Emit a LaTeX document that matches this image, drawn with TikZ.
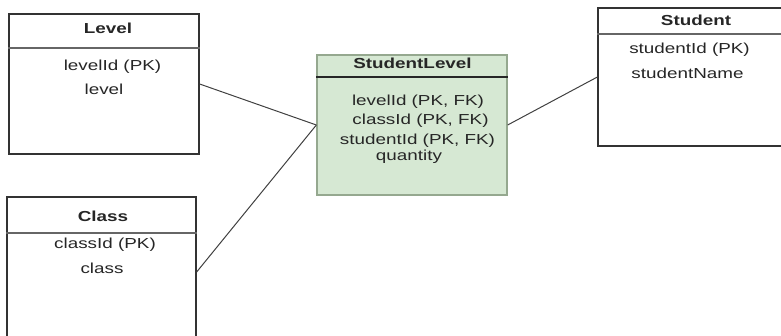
\documentclass[tikz,border=0pt]{standalone}
\usepackage{fontspec}
\setmainfont{Liberation Sans}[FakeStretch=1.3]
\begin{document}
\begin{tikzpicture}[x=1pt,y=-1pt,
  entity/.style={draw=black!80,line width=1.3pt,rectangle,inner sep=0pt,fill=white},
  assoc/.style={draw=sborder,line width=1.3pt,rectangle,inner sep=0pt,fill=sgreen},
  fld/.style={inner sep=0pt,font=\fontsize{14.5}{16}\selectfont,text=black!85},
  ttl/.style={inner sep=0pt,font=\fontsize{14.5}{16}\selectfont\bfseries,text=black!85},
  divider/.style={draw=black!60,line width=1.2pt},
  conn/.style={draw=black!75,line width=1pt}]
\definecolor{sgreen}{HTML}{D6E8D3}
\definecolor{sborder}{HTML}{95A88F}
\useasboundingbox (0,0) rectangle (781,335);
\clip (0,0) rectangle (781,335);
% boxes
\node[entity,minimum width=190pt,minimum height=140pt] (level) at (104,84) {};
\node[entity,minimum width=189pt,minimum height=150pt] (class) at (101.5,272) {};
\node[assoc,minimum width=190pt,minimum height=140pt] (sl) at (412,125) {};
\node[entity,minimum width=192pt,minimum height=138pt] (student) at (694,77) {};
% dividers
\draw[divider] (level.west |- 0,48) -- (level.east |- 0,48);
\draw[divider] (class.west |- 0,233) -- (class.east |- 0,233);
\draw[divider,draw=black!85] (sl.west |- 0,77) -- (sl.east |- 0,77);
\draw[divider] (student.west |- 0,34) -- (student.east |- 0,34);
% Level texts
\node[ttl] (leveltitle) at (108,28) {Level};
\node[fld] (levelid) at (112.5,67) {levelId (PK)};
\node[fld] (levelf) at (104,89) {level};
% Class texts
\node[ttl] (classtitle) at (103,216) {Class};
\node[fld] (classid) at (105,245) {classId (PK)};
\node[fld] (classf) at (102,268) {class};
% StudentLevel texts
\node[ttl] (sltitle) at (412.5,63) {StudentLevel};
\node[fld] (sllevel) at (418,102) {levelId (PK, FK)};
\node[fld] (slclass) at (420.5,121) {classId (PK, FK)};
\node[fld] (slstudent) at (417.5,141) {studentId (PK, FK)};
\node[fld] (slqty) at (409,157) {quantity};
% Student texts
\node[ttl] (studenttitle) at (696,20) {Student};
\node[fld] (studentid) at (689.5,50) {studentId (PK)};
\node[fld] (studentname) at (687.5,73) {studentName};
% connectors
\draw[conn] (level.east) -- (sl.west);
\draw[conn] (class.east) -- (sl.west);
\draw[conn] (sl.east) -- (student.west);
\end{tikzpicture}
\end{document}
